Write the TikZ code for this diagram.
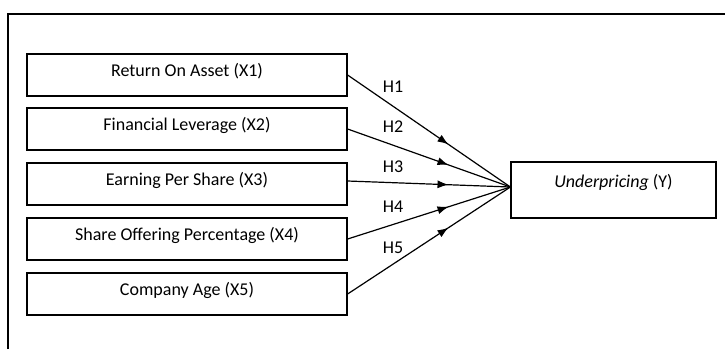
\documentclass[tikz,border=0pt]{standalone}
\usepackage{fontspec}
\setmainfont{Carlito}
\usetikzlibrary{arrows.meta,decorations.markings}
\tikzset{
  varbox/.style={shape=rectangle,draw=black,line width=1.2pt,minimum width=320pt,minimum height=42pt,text depth=10pt,font=\fontsize{18}{22}\selectfont},
  hypo/.style={draw=black,line width=1.2pt,postaction={decorate},decoration={markings,mark=at position 0.62 with {\arrow{Latex[length=11pt,width=8pt]}}}},
  hlabel/.style={font=\fontsize{18}{22}\selectfont}
}
\begin{document}
\begin{tikzpicture}[x=1pt,y=-1pt]
        \useasboundingbox (0,0) rectangle (725,349);
        % frame, only top and left side visible
        \draw[line width=2pt] (8,349) -- (8,14) -- (725,14);
        \node[varbox] (X1) at (187,75) {Return On Asset (X1)};
        \node[varbox] (X2) at (187,129) {Financial Leverage (X2)};
        \node[varbox] (X3) at (187,184) {Earning Per Share (X3)};
        \node[varbox] (X4) at (187,239) {Share Offering Percentage (X4)};
        \node[varbox] (X5) at (187,294) {Company Age (X5)};
        \node[varbox,minimum width=205pt,minimum height=56pt,text depth=19pt] (Y) at (613.5,190) {\textit{Underpricing} (Y)};
        \coordinate (C) at ([yshift=3pt]Y.west);
        \draw[hypo] (X1.east) -- (C);
        \draw[hypo] (X2.east) -- (C);
        \draw[hypo] ([yshift=3pt]X3.east) -- (C);
        \draw[hypo] (X4.east) -- (C);
        \draw[hypo] (X5.east) -- (C);
        \node[hlabel] (H1) at (393,87) {H1};
        \node[hlabel] (H2) at (393,127) {H2};
        \node[hlabel] (H3) at (393,167) {H3};
        \node[hlabel] (H4) at (393,207) {H4};
        \node[hlabel] (H5) at (393,248) {H5};
    \end{tikzpicture}
\end{document}
